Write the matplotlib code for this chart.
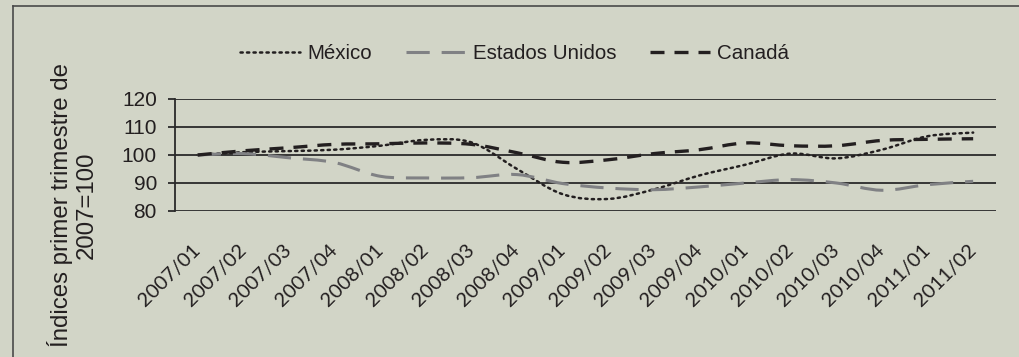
import matplotlib
matplotlib.use("Agg")
import matplotlib.pyplot as plt
from matplotlib.path import Path
from matplotlib.patches import PathPatch
from matplotlib.lines import Line2D
import numpy as np

trimestres = ["2007/01", "2007/02", "2007/03", "2007/04",
              "2008/01", "2008/02", "2008/03", "2008/04",
              "2009/01", "2009/02", "2009/03", "2009/04",
              "2010/01", "2010/02", "2010/03", "2010/04",
              "2011/01", "2011/02"]

mexico = [100.0, 101.0, 101.4, 101.9, 103.3, 105.4, 104.5, 95.0,
          86.0, 84.3, 87.7, 92.7, 96.5, 100.5, 98.8, 101.9,
          106.7, 108.0]
estados_unidos = [100.0, 100.5, 99.0, 97.3, 92.4, 91.8, 91.9, 93.0,
                  89.8, 88.2, 87.6, 88.6, 90.0, 91.2, 90.0, 87.4,
                  89.4, 90.6]
canada = [100.0, 101.5, 102.6, 103.8, 104.0, 104.3, 103.8, 100.8,
          97.4, 98.3, 100.5, 101.9, 104.3, 103.3, 103.3, 105.2,
          105.6, 105.8]

fondo = "#d2d5c7"
texto = "#231f20"
gris = "#808184"


def suavizar(x, y):
    # curva de Bezier que pasa por cada punto (como las lineas suavizadas de Excel)
    pts = np.column_stack([x, y]).astype(float)
    n = len(pts)
    verts = [pts[0]]
    codes = [Path.MOVETO]
    for i in range(n - 1):
        p0 = pts[i - 1] if i > 0 else pts[i]
        p1 = pts[i]
        p2 = pts[i + 1]
        p3 = pts[i + 2] if i + 2 < n else pts[i + 1]
        c1 = p1 + (p2 - p0) / 6.0
        c2 = p2 - (p3 - p1) / 6.0
        verts += [c1, c2, p2]
        codes += [Path.CURVE4] * 3
    return Path(verts, codes)


fig = plt.figure(figsize=(10.19, 3.57), dpi=100, facecolor=fondo)
ax = fig.add_axes([0.1717, 0.409, 0.8057, 0.3137])
ax.set_facecolor(fondo)

x = np.arange(len(trimestres))
estilos = [
    (mexico, "México", dict(color=texto, lw=1.8, linestyle=(0, (0.9, 1.7)),
                            dash_capstyle="round")),
    (estados_unidos, "Estados Unidos", dict(color=gris, lw=2.2, linestyle=(0, (7.6, 3.9)))),
    (canada, "Canadá", dict(color=texto, lw=2.4, linestyle=(0, (4.2, 3.0)))),
]

handles = []
for serie, nombre, kw in estilos:
    patch = PathPatch(suavizar(x, serie), fill=False, zorder=3,
                      edgecolor=kw["color"], linewidth=kw["lw"],
                      linestyle=kw["linestyle"], capstyle=kw.get("dash_capstyle", "butt"))
    ax.add_patch(patch)
    handles.append(Line2D([], [], label=nombre, **kw))

ax.set_xlim(-0.5, len(trimestres) - 0.5)
ax.set_ylim(80, 120)
ax.set_yticks([80, 90, 100, 110, 120])
ax.grid(axis="y", color="#2a2a2a", lw=1.3)
ax.set_axisbelow(True)
for s in ["top", "right", "bottom"]:
    ax.spines[s].set_visible(False)
ax.spines["left"].set_color("#2a2a2a")
ax.spines["left"].set_linewidth(1.3)

ax.tick_params(axis="y", length=5, width=1.3, color="#2a2a2a", pad=8,
               labelsize=15, labelcolor=texto)
ax.set_yticklabels([str(v) for v in [80, 90, 100, 110, 120]], family="Liberation Sans")
ax.set_xticks(x)
ax.set_xticklabels(trimestres, family="Lato", fontsize=14.5, color=texto)
ax.tick_params(axis="x", length=0, pad=26)
plt.setp(ax.get_xticklabels(), rotation=45, ha="right", va="center", rotation_mode="anchor")

fig.text(0.071, 0.425, "Índices primer trimestre de\n2007=100", rotation=90,
         ha="center", va="center", multialignment="center", fontsize=17.3,
         family="Liberation Sans", color=texto, linespacing=1.15)

fig.legend(handles=handles, loc="center", bbox_to_anchor=(0.505, 0.85), ncol=3,
           frameon=False, prop={"family": "Liberation Sans", "size": 14.8},
           labelcolor=texto, handlelength=2.9, handletextpad=0.36, columnspacing=1.65)

# marco exterior: solo borde izquierdo y superior
fig.add_artist(Line2D([12.5 / 1019, 12.5 / 1019], [0, 1 - 5.5 / 357],
                      transform=fig.transFigure, color="#4a4a4a", lw=1.2))
fig.add_artist(Line2D([12.5 / 1019, 1], [1 - 5.5 / 357, 1 - 5.5 / 357],
                      transform=fig.transFigure, color="#4a4a4a", lw=1.2))

fig.savefig("out.png", dpi=100, facecolor=fondo)
